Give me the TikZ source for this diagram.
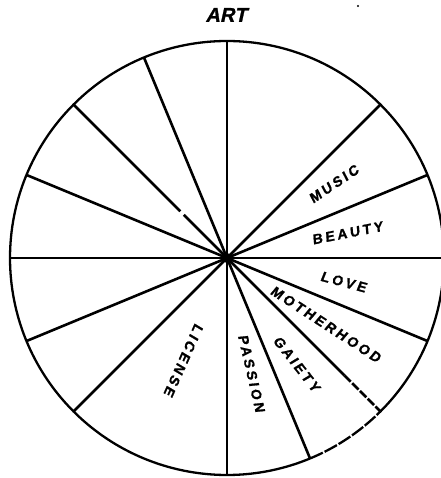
\documentclass[tikz,border=0pt]{standalone}
\usepackage{fontspec}
\newfontfamily\labfont[LetterSpace=20,FakeSlant=0.12,FakeBold=1.2]{Liberation Sans Bold}
\newfontfamily\artfont[FakeSlant=0.22,FakeBold=1.2]{Liberation Sans Bold}
\begin{document}
\begin{tikzpicture}[x=1pt,y=1pt,
  spoke/.style={line width=2.6pt},
  rim/.style={line width=2.3pt},
  lab/.style={font=\labfont\fontsize{14}{14}\selectfont, inner sep=0pt},
]
\useasboundingbox (0,0) rectangle (440,478);
\coordinate (O) at (227,220);
% rim
\draw[rim] ([shift={(O)}]315:217) arc[start angle=315, end angle=652.5, radius=217];
\draw[rim, dash pattern=on 14pt off 2pt] ([shift={(O)}]292.5:217) arc[start angle=292.5, end angle=315, radius=217];
% spokes
\foreach \a in {0,22.5,45,90,112.5,157.5,180,202.5,225,270,292.5,337.5}
  \draw[spoke] (O) -- ++(\a:217);
\draw[spoke] (O) -- ++(135:61) ++(135:5) -- ++(135:151);
\draw[spoke] (O) -- ++(315:166) coordinate (m);
\draw[spoke, dash pattern=on 9pt off 2pt] (m) -- ++(315:51);
\fill (O) circle (5);
% labels
\node[lab, rotate=34]  (music)  at ([shift={(O)}]34.7:130) {MUSIC};
\node[lab, rotate=11]  (beauty) at ([shift={(O)}]11.7:123) {BEAUTY};
\node[lab, rotate=-15] (love)   at ([shift={(O)}]-11.6:119) {LOVE};
\node[lab, rotate=-33] (moth)   at ([shift={(O)}]-33.9:119) {MOTHERHOOD};
\node[lab, rotate=-52] (gaiety) at ([shift={(O)}]-56.7:127) {GAIETY};
\node[lab, rotate=-77] (passion) at ([shift={(O)}]-78:118) {PASSION};
\node[lab, rotate=246] (license) at ([shift={(O)}]247:111) {LICENSE};
% title
\node[font=\artfont\fontsize{20}{20}\selectfont, inner sep=0pt] (art) at (226,463) {ART};
\fill (358,472) circle (1.1);
\end{tikzpicture}
\end{document}
